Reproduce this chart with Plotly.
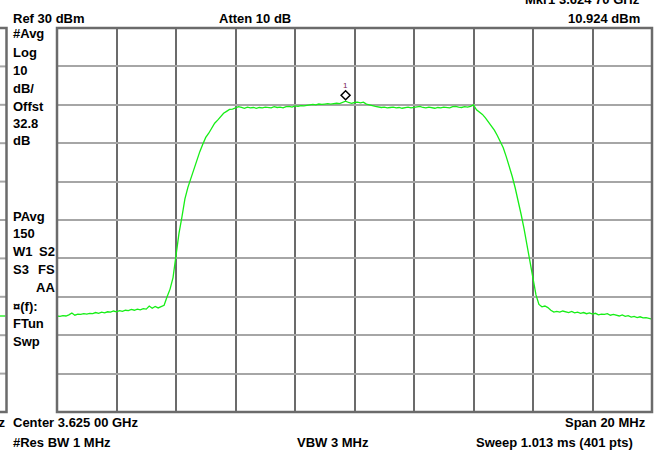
import numpy as np
import plotly.graph_objects as go

# Analyzer settings
ref_dbm = 30
db_per_div = 10
n_div = 10
center_ghz = 3.625
span_mhz = 20
offset_db = 32.8

# Averaged trace, 0.1 MHz steps from -10 MHz to +10 MHz about the center
amps_dbm = [
    -45.0, -45.1, -44.9, -45.0, -44.7, -44.2, -44.8, -44.5, -44.6, -44.4,
    -44.5, -44.3, -44.4, -44.1, -44.3, -44.0, -44.2, -43.9, -44.0, -43.7,
    -43.9, -43.6, -43.8, -43.5, -43.6, -43.3, -43.5, -43.2, -43.4, -43.1,
    -43.2, -42.4, -43.0, -42.5, -42.9, -42.6, -42.2, -40.0, -38.0, -35.0,
    -29.0, -23.5, -19.2, -14.5, -11.5, -9.2, -6.5, -4.5, -2.2, -0.3,
    1.5, 2.6, 3.8, 5.2, 6.0, 6.8, 7.8, 8.3, 8.8, 8.9,
    9.3, 9.5, 9.3, 9.1, 9.4, 9.2, 9.3, 9.1, 9.3, 9.2,
    9.4, 9.3, 9.2, 9.5, 9.3, 9.4, 9.2, 9.5, 9.6, 9.4,
    9.7, 9.6, 9.8, 9.7, 9.9, 10.0, 10.1, 10.0, 10.2, 10.1,
    10.2, 10.3, 10.2, 10.3, 10.4, 10.3, 10.6, 10.924, 10.6, 10.4,
    10.6, 10.7, 10.5, 10.7, 10.2, 9.9, 9.8, 9.6, 9.5, 9.3,
    9.4, 9.2, 9.3, 9.4, 9.2, 9.3, 9.1, 9.3, 9.4, 9.2,
    9.3, 9.5, 9.6, 9.3, 9.2, 9.4, 9.3, 9.1, 9.3, 9.2,
    9.4, 9.3, 9.2, 9.5, 9.6, 9.4, 9.3, 9.5, 9.4, 9.6,
    10.0, 8.7, 8.2, 7.5, 6.6, 5.6, 4.6, 3.4, 2.0, 0.5,
    -1.2, -3.5, -5.8, -8.6, -11.6, -14.8, -18.5, -22.3, -26.5, -30.5,
    -34.5, -39.5, -42.0, -42.6, -42.4, -42.8, -43.5, -44.0, -43.8, -44.0,
    -43.7, -43.9, -44.1, -43.8, -44.2, -44.0, -44.3, -44.1, -44.4, -44.2,
    -44.5, -44.3, -44.7, -44.5, -44.6, -44.4, -44.8, -44.6, -44.9, -45.0,
    -44.7, -45.1, -44.9, -45.3, -45.1, -45.4, -45.2, -45.5, -45.4, -45.6,
    -45.8,
]
freq_mhz = np.linspace(-span_mhz / 2, span_mhz / 2, len(amps_dbm))

marker_idx = 97
marker_mhz = float(freq_mhz[marker_idx])
marker_dbm = amps_dbm[marker_idx]

mkr_ghz = f"{center_ghz + marker_mhz / 1000:.5f}"
mkr_ghz = mkr_ghz[:5] + " " + mkr_ghz[5:]

side_labels = ["#Avg", "Log", f"{db_per_div}", "dB/", "Offst", f"{offset_db}", "dB",
               "PAvg", "150", "W1", "S3", "¤(f):", "FTun", "Swp"]
side_label_tops = [29, 48, 66, 84, 102, 119, 136, 212, 229, 247, 265, 302, 319, 337]
side_right_labels = ["S2", "FS", "AA"]
side_right_tops = [247, 265, 283]

# Canvas / plot-area geometry in pixels
W, H = 660, 451
L, R, T, B = 57, 652, 28, 412


def px_x(px):
    return (px - L) / (R - L)


def px_y(py):
    return 1 - (py - T) / (B - T)


FONT = dict(family="Liberation Sans, Arial, sans-serif", size=13, color="#000000", weight="bold")

fig = go.Figure()
fig.add_trace(go.Scatter(
    x=freq_mhz, y=amps_dbm, mode="lines",
    line=dict(color="#16ee16", width=1.3),
    hoverinfo="skip",
))

annotations = []


def label(text, x, cap_top, anchor="left"):
    shift = -2 if anchor == "left" else 2
    annotations.append(dict(
        text=text, xref="paper", yref="paper",
        x=px_x(x + shift), y=px_y(cap_top + 4.8),
        xanchor=anchor, yanchor="middle", showarrow=False, font=FONT,
    ))


label(f"Ref {ref_dbm} dBm", 12.5, 13.5)
label("Atten 10 dB", 219, 13.5)
label(f"Mkr1 {mkr_ghz} GHz", 640, -5, anchor="right")
label(f"{marker_dbm:.3f} dBm", 640, 13.5, anchor="right")
for t, y in zip(side_labels, side_label_tops):
    label(t, 12.5, y)
for t, y in zip(side_right_labels, side_right_tops):
    label(t, 54.5, y, anchor="right")
label(f"Center {center_ghz:.5f}"[:-2] + " " + f"{center_ghz:.5f}"[-2:] + " GHz", 12.5, 418)
label("#Res BW 1 MHz", 12.5, 438)
label("VBW 3 MHz", 297, 438)
label(f"Span {span_mhz} MHz", 646, 418, anchor="right")
label("Sweep 1.013 ms (401 pts)", 476, 438)
label("GHz", 5.5, 418, anchor="right")

# Marker number above the diamond
annotations.append(dict(
    text="1", x=marker_mhz, y=marker_dbm, xref="x", yref="y",
    yshift=16, showarrow=False,
    font=dict(family="Liberation Sans, Arial, sans-serif", size=8, color="#7a2050"),
))

shapes = []
# Diamond marker, drawn just above the trace point
shapes.append(dict(
    type="path", xref="x", yref="y", xsizemode="pixel", ysizemode="pixel",
    xanchor=marker_mhz, yanchor=marker_dbm,
    path="M 0,1.5 L 4.5,6 L 0,10.5 L -4.5,6 Z",
    line=dict(color="#000000", width=1.5), fillcolor="#ffffff", layer="above",
))

# Neighbouring panel edge at the far left
edge = px_x(6.5)
for k in range(1, n_div):
    shapes.append(dict(type="line", xref="paper", yref="y", x0=px_x(0), x1=edge,
                       y0=ref_dbm - k * db_per_div, y1=ref_dbm - k * db_per_div,
                       line=dict(color="#a6a6a6", width=2)))
shapes.append(dict(type="line", xref="paper", yref="y", x0=px_x(0), x1=px_x(5.5),
                   y0=amps_dbm[0], y1=amps_dbm[0], line=dict(color="#16ee16", width=1.3)))
shapes.append(dict(type="rect", xref="paper", yref="paper", x0=px_x(-20), x1=edge,
                   y0=0, y1=1, line=dict(color="#6b6b6b", width=2.5)))

# Graticule frame
shapes.append(dict(type="rect", xref="paper", yref="paper", x0=0, x1=1, y0=0, y1=1,
                   line=dict(color="#6b6b6b", width=2.5), layer="above"))

fig.update_layout(
    width=W, height=H,
    margin=dict(l=L, r=W - R, t=T, b=H - B, pad=0),
    paper_bgcolor="#ffffff", plot_bgcolor="#ffffff",
    showlegend=False,
    annotations=annotations,
    shapes=shapes,
    xaxis=dict(range=[-span_mhz / 2, span_mhz / 2], tick0=-span_mhz / 2, dtick=span_mhz / n_div,
               showgrid=True, gridcolor="#6b6b6b", gridwidth=1.5,
               showticklabels=False, ticks="", zeroline=False, showline=False, fixedrange=True),
    yaxis=dict(range=[ref_dbm - n_div * db_per_div, ref_dbm], tick0=ref_dbm, dtick=db_per_div,
               showgrid=True, gridcolor="#a6a6a6", gridwidth=2,
               showticklabels=False, ticks="", zeroline=False, showline=False, fixedrange=True),
)

fig.write_html("out.html", config=dict(displayModeBar=False))
